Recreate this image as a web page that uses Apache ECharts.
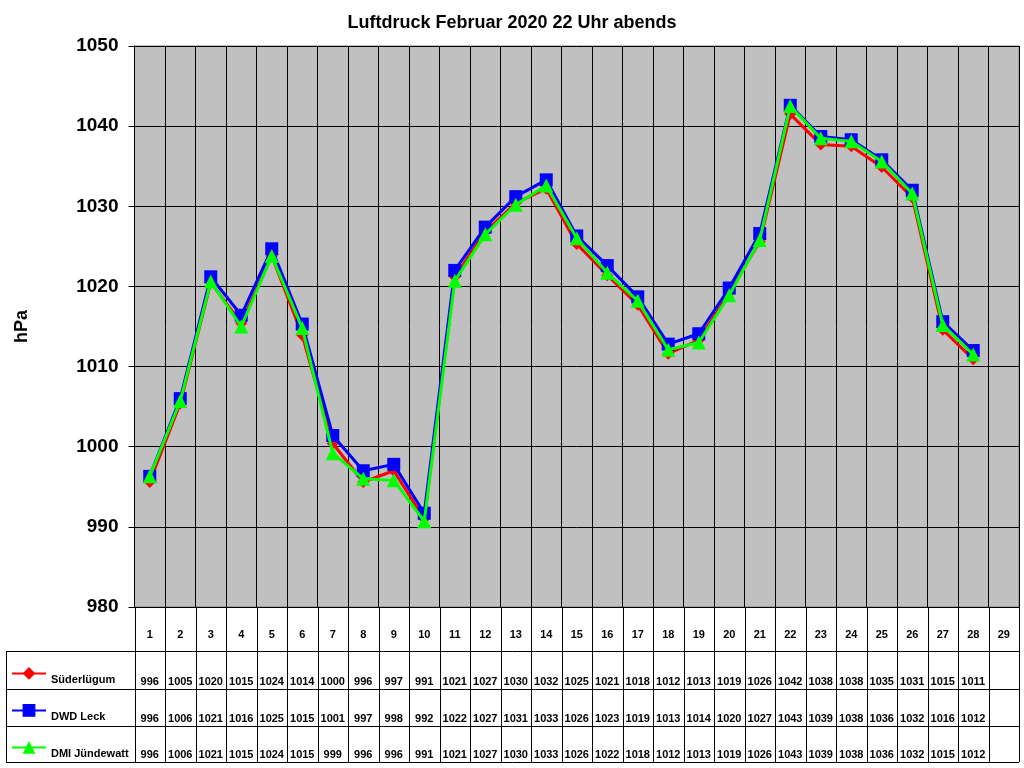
<!DOCTYPE html>
<html>
<head>
<meta charset="utf-8">
<script src="https://cdn.jsdelivr.net/npm/echarts@6/dist/echarts.min.js"></script>
<style>
  html, body { margin: 0; padding: 0; background: #fff; }
  #chart { width: 1024px; height: 768px; }
</style>
</head>
<body>
<div id="chart"></div>
<script>
// Tage im Februar (29 Spalten, letzte leer)
var days = [];
for (var d = 1; d <= 29; d++) days.push(String(d));

// Stationen
var stations = ['Süderlügum', 'DWD Leck', 'DMI Jündewatt'];

// Kurvenwerte
var suederluegum = [995.6, 1005.4, 1020.5, 1015.4, 1023.8, 1013.9, 1000.4, 995.6, 997.0, 991.0, 1021.2, 1026.8, 1030.4, 1032.2, 1025.3, 1021.4, 1017.7, 1011.6, 1013.3, 1019.2, 1025.6, 1041.5, 1037.7, 1037.5, 1034.9, 1031.1, 1014.6, 1010.9];
var dwdLeck = [996.3, 1006.0, 1021.2, 1016.4, 1024.7, 1015.3, 1001.4, 997.0, 997.8, 991.7, 1022.0, 1027.4, 1031.2, 1033.3, 1026.3, 1022.6, 1018.7, 1012.8, 1014.1, 1019.8, 1026.6, 1042.6, 1038.7, 1038.3, 1035.8, 1032.0, 1015.6, 1012.0];
var dmiJuendewatt = [996.3, 1005.7, 1020.6, 1015.0, 1023.8, 1014.8, 999.2, 996.0, 995.8, 990.7, 1020.7, 1026.5, 1030.2, 1032.6, 1026.0, 1021.7, 1018.2, 1012.1, 1013.0, 1018.9, 1025.8, 1042.5, 1038.5, 1038.1, 1035.6, 1031.6, 1015.2, 1011.5];

// Datentabelle (gerundete Werte wie abgedruckt)
var tabSued = [996, 1005, 1020, 1015, 1024, 1014, 1000, 996, 997, 991, 1021, 1027, 1030, 1032, 1025, 1021, 1018, 1012, 1013, 1019, 1026, 1042, 1038, 1038, 1035, 1031, 1015, 1011];
var tabLeck = [996, 1006, 1021, 1016, 1025, 1015, 1001, 997, 998, 992, 1022, 1027, 1031, 1033, 1026, 1023, 1019, 1013, 1014, 1020, 1027, 1043, 1039, 1038, 1036, 1032, 1016, 1012];
var tabDmi = [996, 1006, 1021, 1015, 1024, 1015, 999, 996, 996, 991, 1021, 1027, 1030, 1033, 1026, 1022, 1018, 1012, 1013, 1019, 1026, 1043, 1039, 1038, 1036, 1032, 1015, 1012];

var FONT = 'Arial, "Liberation Sans", sans-serif';
var chart = echarts.init(document.getElementById('chart'));

// je Tabellenzeile eine eigene Legende
var legends = stations.map(function (name, i) {
  return {
    orient: 'vertical',
    left: 11,
    top: 667 + i * 37,
    padding: 0,
    itemWidth: 34,
    itemHeight: 16,
    formatter: '{a|{name}}',
    textStyle: {
      fontFamily: FONT, fontSize: 11, fontWeight: 'bold', color: '#000',
      rich: { a: { fontFamily: FONT, fontSize: 11, fontWeight: 'bold', color: '#000', padding: [14, 0, 0, 0] } }
    },
    data: [name]
  };
});

chart.setOption({
  backgroundColor: '#fff',
  animation: false,
  title: {
    text: 'Luftdruck Februar 2020 22 Uhr abends',
    left: 'center',
    top: 9,
    textStyle: { fontFamily: FONT, fontSize: 18, fontWeight: 'bold', color: '#000' }
  },
  legend: legends,
  grid: {
    left: 134.5, top: 46, right: 5, bottom: 161,
    show: true, backgroundColor: '#C0C0C0', borderColor: '#808080', borderWidth: 1
  },
  xAxis: {
    type: 'category',
    data: days,
    boundaryGap: true,
    axisLine: { lineStyle: { color: '#000', width: 1 } },
    axisTick: { show: false },
    axisLabel: { interval: 0, margin: 22, fontFamily: FONT, fontSize: 11, fontWeight: 'bold', color: '#000' },
    splitLine: { show: true, interval: 0, lineStyle: { color: '#000', width: 1 } }
  },
  yAxis: {
    type: 'value',
    min: 980, max: 1050, interval: 10,
    name: 'hPa',
    nameLocation: 'middle',
    nameRotate: 90,
    nameGap: 103,
    nameTextStyle: { fontFamily: FONT, fontSize: 18, fontWeight: 'bold', color: '#000' },
    axisLine: { show: true, lineStyle: { color: '#000', width: 1 } },
    axisTick: { show: true, length: 6, lineStyle: { color: '#000' } },
    axisLabel: {
      margin: 16, fontFamily: FONT, fontSize: 19, fontWeight: 'bold', color: '#000',
      formatter: function (v) { return String(v); }
    },
    splitLine: { lineStyle: { color: '#000', width: 1 } }
  },
  series: [
    {
      name: stations[0], type: 'line', data: suederluegum, z: 2,
      symbol: 'diamond', symbolSize: 12, showAllSymbol: true,
      lineStyle: { color: '#FF0000', width: 3 },
      itemStyle: { color: '#FF0000' }
    },
    {
      name: stations[1], type: 'line', data: dwdLeck, z: 3,
      symbol: 'rect', symbolSize: 13, showAllSymbol: true,
      lineStyle: { color: '#0000FF', width: 3 },
      itemStyle: { color: '#0000FF' }
    },
    {
      name: stations[2], type: 'line', data: dmiJuendewatt, z: 4,
      symbol: 'triangle', symbolSize: 14, showAllSymbol: true,
      lineStyle: { color: '#00FF00', width: 3 },
      itemStyle: { color: '#00FF00' }
    }
  ]
});

// Datentabelle unter dem Diagramm
function buildTable() {
  var c0 = chart.convertToPixel({ xAxisIndex: 0 }, 0);
  var c1 = chart.convertToPixel({ xAxisIndex: 0 }, 1);
  var w = c1 - c0;
  var yTop = chart.convertToPixel({ yAxisIndex: 0 }, 980);
  var rows = [yTop + 44, yTop + 82, yTop + 119, yTop + 155];
  var xLeft = 6;
  var xRight = c0 - w / 2 + w * days.length;
  var els = [];
  var ls = { stroke: '#000', lineWidth: 1 };

  for (var k = 0; k <= days.length; k++) {
    var xb = Math.round(c0 - w / 2 + k * w) + 0.5;
    els.push({ type: 'line', shape: { x1: xb, y1: yTop, x2: xb, y2: rows[3] }, style: ls });
  }
  els.push({ type: 'line', shape: { x1: xLeft + 0.5, y1: rows[0], x2: xLeft + 0.5, y2: rows[3] }, style: ls });
  rows.forEach(function (y) {
    var yy = Math.round(y) + 0.5;
    els.push({ type: 'line', shape: { x1: xLeft, y1: yy, x2: xRight, y2: yy }, style: ls });
  });

  [tabSued, tabLeck, tabDmi].forEach(function (arr, r) {
    arr.forEach(function (v, i) {
      els.push({
        type: 'text',
        style: {
          text: String(v),
          x: c0 + i * w,
          y: rows[r + 1] - 2,
          align: 'center',
          verticalAlign: 'bottom',
          font: 'bold 11px ' + FONT,
          fill: '#000'
        }
      });
    });
  });

  chart.setOption({ graphic: els });
}
buildTable();
</script>
</body>
</html>
